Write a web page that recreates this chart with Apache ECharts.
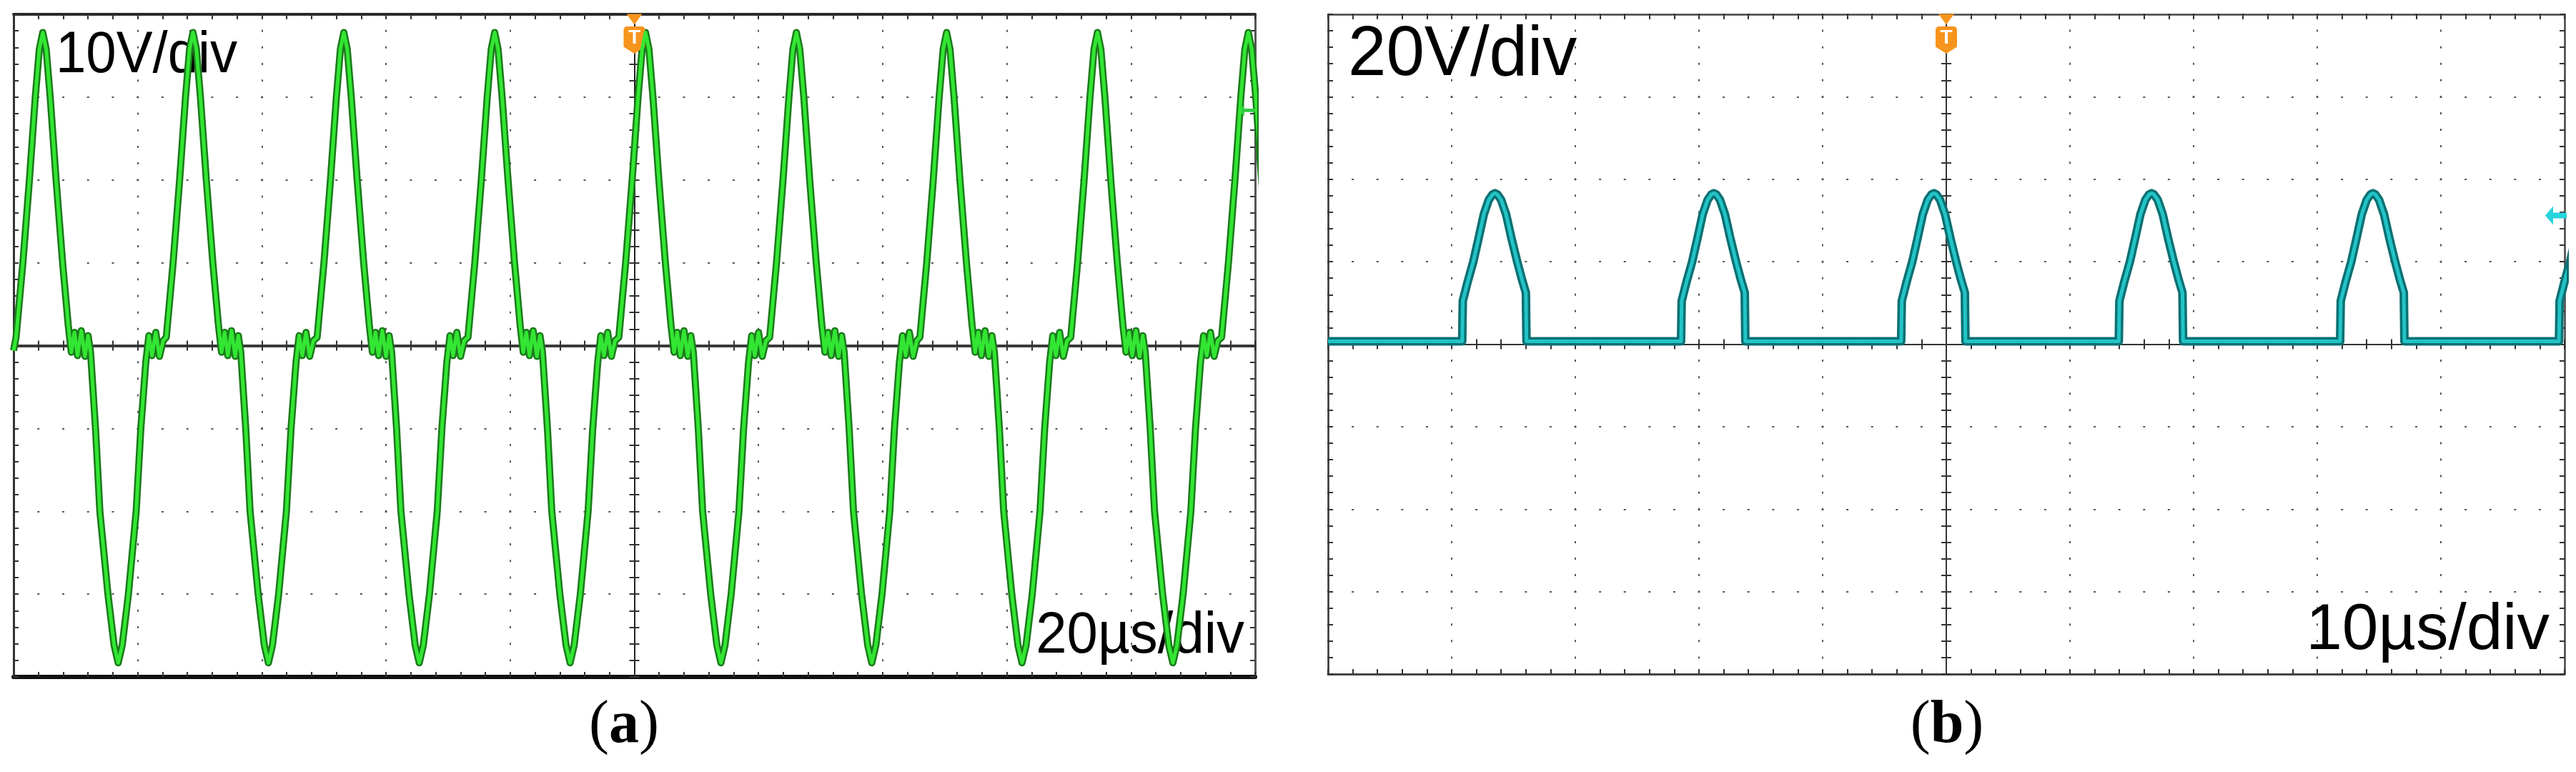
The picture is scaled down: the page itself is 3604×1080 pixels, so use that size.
<!DOCTYPE html>
<html>
<head>
<meta charset="utf-8">
<title>Oscilloscope captures (a) and (b)</title>
<script src="https://cdn.jsdelivr.net/npm/echarts@6.0.0/dist/echarts.min.js"></script>
<style>
  html, body { margin: 0; padding: 0; background: #fff; }
  #chart { width: 3604px; height: 1080px; }
</style>
</head>
<body>
<div id="chart"></div>
<script>
// ---- panel (a): 10 V/div, 20 us/div, trigger at t = 0 ----
const timeRangeA = [-100, 100, 20];
const voltRangeA = [-40, 40, 10];
// positive peak times (us)
const peakTimesA = [-95.3, -71.1, -46.8, -22.5, 1.8, 26.1, 50.3, 74.6, 98.9];
// one period of trace (a), read relative to a positive peak: [us from peak, V]
const cycleA = [
  [-4.3, 1.0], [-3.2, 10], [-2.15, 20], [-1.2, 30], [-0.55, 35.8], [0, 37.8],
  [0.55, 35.8], [1.2, 30], [2.15, 20], [3.2, 10], [4.1, 2.5],
  [4.6, -0.8], [5.1, 1.6], [5.6, -1.2], [6.2, 1.8], [6.8, -1.3], [7.3, 1.2], [7.7, -0.8],
  [8.5, -10], [9.2, -20], [10.5, -30], [11.5, -36.2], [12.15, -38.3], [12.8, -36.2],
  [13.8, -30], [15.05, -20], [15.8, -10], [16.6, -2.0],
  [17.1, 1.2], [17.6, -1.2], [18.2, 1.6], [18.8, -1.3], [19.4, 0.6]
];
const leadA = [[-100, -0.6]];

// ---- panel (b): 20 V/div, 10 us/div ----
const timeRangeB = [-50, 50, 10];
const voltRangeB = [-80, 80, 20];
const peakTimesB = [-36.5, -18.8, -1.0, 16.6, 34.5, 52.2];
const cycleB = [
  [-2.65, 0.7], [-2.6, 10.5], [-2.2, 15.2], [-1.75, 20], [-1.3, 26], [-0.9, 31.5],
  [-0.5, 35.0], [-0.2, 36.3], [0, 36.6], [0.2, 36.3], [0.5, 35.0], [0.9, 31.5],
  [1.35, 25.5], [1.8, 20], [2.2, 15.5], [2.5, 12.5], [2.55, 0.7]
];
const leadB = [[-50, 0.7]];

const scaleLabelsA = ['10V/div', '20µs/div'];
const scaleLabelsB = ['20V/div', '10µs/div'];
const captions = ['a', 'b'];
const trigLevelA = 28.4;
const trigLevelB = 31.2;

const boxA = { left: 19, top: 20, width: 1737, height: 927 };
const boxB = { left: 1858, top: 20, width: 1730, height: 923 };

function buildTrace(lead, peaks, cycle) {
  const pts = lead.slice();
  peaks.forEach(p => cycle.forEach(([dt, v]) => pts.push([+(p + dt).toFixed(3), v])));
  return pts;
}

function panelAxes(gridIndex, box, xr, yr, s) {
  const tick = { show: true, inside: true, length: 7, lineStyle: { color: '#333', width: 2 } };
  const minor = { show: true, splitNumber: 5, length: 7, lineStyle: { color: '#333', width: 2 } };
  const dots = step => ({ show: true, lineStyle: { color: '#555', width: 2, type: [3, step - 3], dashOffset: 1.5 } });
  const common = r => ({
    type: 'value', gridIndex, min: r[0], max: r[1], interval: r[2],
    axisLabel: { show: false }, axisTick: tick, minorTick: minor, splitLine: { show: false }
  });
  const x = [
    { ...common(xr), position: 'bottom', axisLine: { onZero: false, lineStyle: s.bottom }, splitLine: dots(box.height / 40) },
    { ...common(xr), position: 'top', axisLine: { onZero: false, lineStyle: s.top } },
    { ...common(xr), position: 'top', offset: -box.height / 2, axisLine: { onZero: false, lineStyle: s.zero } },
    { ...common(xr), position: 'bottom', offset: -box.height / 2, axisLine: { show: false, onZero: false } }
  ];
  const y = [
    { ...common(yr), position: 'left', axisLine: { onZero: false, lineStyle: s.left }, splitLine: dots(box.width / 50) },
    { ...common(yr), position: 'right', axisLine: { onZero: false, lineStyle: s.right } },
    { ...common(yr), position: 'left', offset: -box.width / 2, axisLine: { onZero: false, lineStyle: s.center } },
    { ...common(yr), position: 'right', offset: -box.width / 2, axisLine: { show: false, onZero: false } }
  ];
  return { x, y };
}

const axesA = panelAxes(0, boxA, timeRangeA, voltRangeA, {
  bottom: { color: '#111', width: 6 }, top: { color: '#2a2a2a', width: 4 },
  zero: { color: '#3a3a3a', width: 4 }, left: { color: '#333', width: 3 },
  right: { color: '#555', width: 3 }, center: { color: '#222', width: 2 }
});
const axesB = panelAxes(1, boxB, timeRangeB, voltRangeB, {
  bottom: { color: '#444', width: 3 }, top: { color: '#444', width: 2.5 },
  zero: { color: '#333', width: 2 }, left: { color: '#333', width: 2.5 },
  right: { color: '#444', width: 2.5 }, center: { color: '#333', width: 2 }
});

const TRIG = '#f7941d';
const badge = 'path://M5,0 L23,0 Q28,0 28,5 L28,27 L14,36 L0,27 L0,5 Q0,0 5,0 Z';
const arrow = 'path://M0,10 L11,0 L11,7 L30,7 L30,13 L11,13 L11,20 Z';

function markers(topV, rightT, level, arrowColor, arrowSize) {
  return {
    silent: true,
    data: [
      { coord: [0, topV], symbol: 'triangle', symbolRotate: 180, symbolSize: [22, 15], symbolOffset: [0, 7],
        itemStyle: { color: TRIG }, label: { show: false } },
      { coord: [0, topV], symbol: badge, symbolSize: [30, 38], symbolOffset: [0, 36],
        itemStyle: { color: TRIG },
        label: { show: true, position: 'inside', formatter: 'T', color: '#fff', fontSize: 28,
                 fontWeight: 'bold', fontFamily: 'Liberation Sans', offset: [0, -3] } },
      { coord: [rightT, level], symbol: arrow, symbolSize: arrowSize, symbolOffset: [-12, 0],
        itemStyle: { color: arrowColor }, label: { show: false } }
    ]
  };
}

const traceA = buildTrace(leadA, peakTimesA, cycleA);
const traceB = buildTrace(leadB, peakTimesB, cycleB);

const chart = echarts.init(document.getElementById('chart'));
chart.setOption({
  backgroundColor: '#fff',
  animation: false,
  grid: [
    { ...boxA, containLabel: false, outerBoundsMode: 'none' },
    { ...boxB, containLabel: false, outerBoundsMode: 'none' }
  ],
  xAxis: [...axesA.x, ...axesB.x],
  yAxis: [...axesA.y, ...axesB.y],
  series: [
    { type: 'line', xAxisIndex: 0, yAxisIndex: 0, data: traceA, symbol: 'none', z: 4, silent: true,
      lineStyle: { color: '#1b7a1b', width: 10, join: 'round' } },
    { type: 'line', xAxisIndex: 0, yAxisIndex: 0, data: traceA, symbol: 'none', z: 5, silent: true,
      lineStyle: { color: '#33e633', width: 5, join: 'round' },
      markPoint: markers(voltRangeA[1], timeRangeA[1], trigLevelA, '#2ecc40', [24, 16]) },
    { type: 'line', xAxisIndex: 4, yAxisIndex: 4, data: traceB, symbol: 'none', z: 4, silent: true,
      lineStyle: { color: '#0d7073', width: 12, join: 'round' } },
    { type: 'line', xAxisIndex: 4, yAxisIndex: 4, data: traceB, symbol: 'none', z: 5, silent: true,
      lineStyle: { color: '#22c4c6', width: 5, join: 'round' },
      markPoint: markers(voltRangeB[1], timeRangeB[1], trigLevelB, '#27d3dc', [30, 26]) }
  ],
  graphic: [
    { type: 'text', x: 78, y: 79, z: 3, scaleX: 0.94,
      style: { text: scaleLabelsA[0], fontSize: 81, fontFamily: 'Liberation Sans', fill: '#000', align: 'left', verticalAlign: 'middle' } },
    { type: 'text', x: 1741, y: 890, z: 3, scaleX: 0.95,
      style: { text: scaleLabelsA[1], fontSize: 82, fontFamily: 'Liberation Sans', fill: '#000', align: 'right', verticalAlign: 'middle' } },
    { type: 'text', x: 1886, y: 78, z: 3, scaleX: 0.98,
      style: { text: scaleLabelsB[0], fontSize: 98, fontFamily: 'Liberation Sans', fill: '#000', align: 'left', verticalAlign: 'middle' } },
    { type: 'text', x: 3567, y: 883, z: 3,
      style: { text: scaleLabelsB[1], fontSize: 91, fontFamily: 'Liberation Sans', fill: '#000', align: 'right', verticalAlign: 'middle' } },
    { type: 'text', x: 873, y: 1016, z: 3,
      style: { text: '({b|' + captions[0] + '})', fontSize: 84, fontFamily: 'Liberation Serif', fill: '#000',
               align: 'center', verticalAlign: 'middle',
               rich: { b: { fontWeight: 'bold', fontSize: 84, fontFamily: 'Liberation Serif' } } } },
    { type: 'text', x: 2724, y: 1016, z: 3,
      style: { text: '({b|' + captions[1] + '})', fontSize: 84, fontFamily: 'Liberation Serif', fill: '#000',
               align: 'center', verticalAlign: 'middle',
               rich: { b: { fontWeight: 'bold', fontSize: 84, fontFamily: 'Liberation Serif' } } } }
  ]
});
</script>
</body>
</html>
